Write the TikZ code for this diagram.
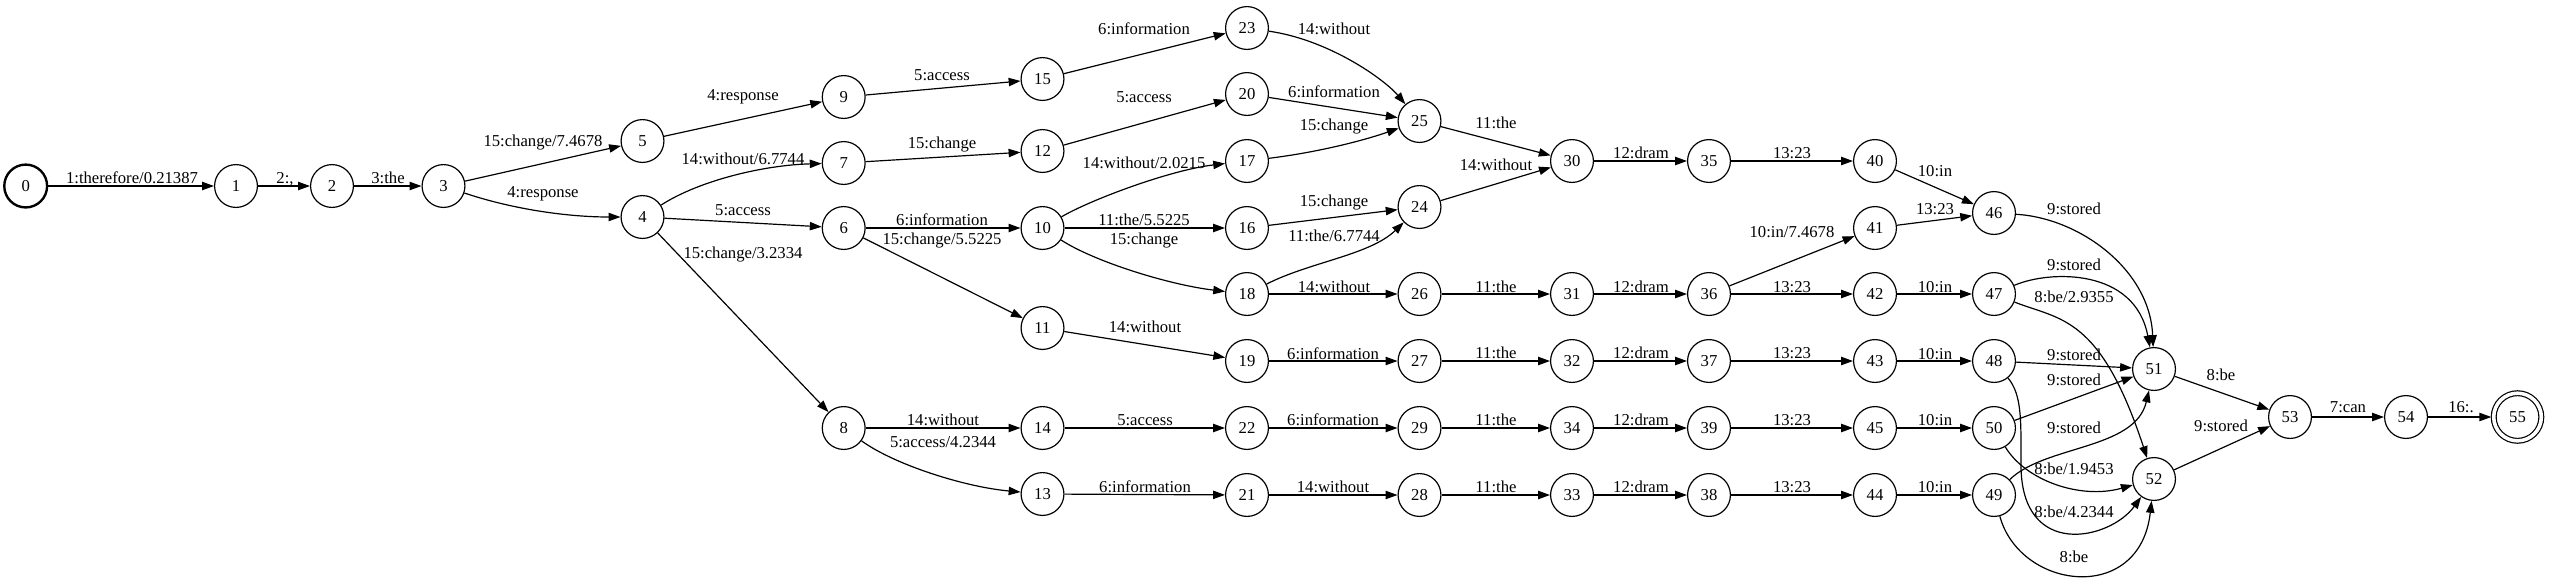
\documentclass[tikz,border=0pt]{standalone}
\usepackage{fontspec}
\setmainfont{Liberation Serif}
\usetikzlibrary{arrows.meta}

\begin{document}
\begin{tikzpicture}[x=0.84pt, y=-0.84pt,
    st/.style={draw, circle, minimum size=36pt, inner sep=0pt, line width=1pt, font=\fontsize{14}{16}\selectfont},
    lbl/.style={inner sep=0pt, font=\fontsize{14}{16}\selectfont},
    arr/.style={line width=1pt, -{Triangle[length=10pt,width=7pt]}}]
  \useasboundingbox (0,0) rectangle (2550,584);

  % states
  \node[st, line width=2pt] (n0) at (25.7,186) {0};
  \foreach \n/\x/\y in {1/236/186, 2/332/186, 3/443.5/186, 5/642.5/141, 4/642.5/217,
      9/843.7/97, 7/843.7/163, 6/843.7/228, 8/843.7/428,
      15/1042.5/79, 12/1042.5/151, 10/1042.5/228, 11/1042.5/328, 14/1042.5/428, 13/1042.5/494,
      23/1247/28, 20/1247/94, 17/1247/161, 16/1247/228, 18/1247/294, 19/1247/361, 22/1247/428, 21/1247/495,
      25/1419.5/121, 24/1419.5/207, 26/1419.5/294, 27/1419.5/361, 29/1419.5/428, 28/1419.5/495,
      30/1572/161, 31/1572/294, 32/1572/361, 34/1572/428, 33/1572/495,
      35/1709/161, 36/1709/294, 37/1709/361, 39/1709/428, 38/1709/495,
      40/1875/161, 41/1875/228, 42/1875/294, 43/1875/361, 45/1875/428, 44/1875/495,
      46/1994/213, 47/1994/294, 48/1994/361, 50/1994/428, 49/1994/495,
      51/2154/369, 52/2154/479, 53/2290/417, 54/2406/417}
    \node[st] (n\n) at (\x,\y) {\n};
  \node[st, minimum size=40pt, double, double distance=3pt, outer sep=2pt] (n55) at (2517.5,417) {55};

  % straight arcs
  \foreach \a/\b/\t/\lx/\ly in {0/1/{1:therefore/0.21387}/132/178, 1/2/{2:,}/285/179, 2/3/{3:the}/388/178,
      3/5/{15:change/7.4678}/543/143, 5/9/{4:response}/743/97, 4/6/{5:access}/743/210,
      4/8/{15:change/3.2334}/743/255, 9/15/{5:access}/942/75, 7/12/{15:change}/942/145,
      6/10/{6:information}/942/220, 6/11/{15:change/5.5225}/942/241, 8/14/{14:without}/943/420,
      15/23/{6:information}/1144/29, 12/20/{5:access}/1144/97, 10/16/{11:the/5.5225}/1144/220,
      11/19/{14:without}/1145/327, 14/22/{5:access}/1145/420, 13/21/{6:information}/1145/487,
      20/25/{6:information}/1334/92, 16/24/{15:change}/1334/203, 18/26/{14:without}/1334/287,
      19/27/{6:information}/1333/354, 22/29/{6:information}/1333/420, 21/28/{14:without}/1333/487,
      25/30/{11:the}/1496/123, 24/30/{14:without}/1496/165, 26/31/{11:the}/1496/287,
      27/32/{11:the}/1496/353, 29/34/{11:the}/1496/420, 28/33/{11:the}/1496/487,
      30/35/{12:dram}/1641/153, 31/36/{12:dram}/1641/287, 32/37/{12:dram}/1641/353,
      34/39/{12:dram}/1641/420, 33/38/{12:dram}/1641/487,
      35/40/{13:23}/1792/153, 36/41/{10:in/7.4678}/1792/232, 36/42/{13:23}/1792/287,
      37/43/{13:23}/1792/353, 39/45/{13:23}/1792/420, 38/44/{13:23}/1792/487,
      40/46/{10:in}/1935/171, 41/46/{13:23}/1935/209, 42/47/{10:in}/1935/287,
      43/48/{10:in}/1935/354, 45/50/{10:in}/1935/420, 44/49/{10:in}/1935/487,
      48/51/{9:stored}/2074/355, 50/51/{9:stored}/2074/380,
      51/53/{8:be}/2221/375, 52/53/{9:stored}/2221/426, 53/54/{7:can}/2348/407, 54/55/{16:.}/2461/407}
  {
    \draw[arr] (n\a) -- (n\b);
    \node[lbl] (l\a-\b) at (\lx,\ly) {\t};
  }

  % curved arcs
  \draw[arr] (n3) .. controls (515,210) and (570,217) .. (n4);
  \node[lbl] (l3-4) at (543,194) {4:response};
  \draw[arr] (n4) .. controls (700,180) and (765,165) .. (n7);
  \node[lbl] (l4-7) at (743,159) {14:without/6.7744};
  \draw[arr] (n10) .. controls (1090,200) and (1170,170) .. (n17);
  \node[lbl] (l10-17) at (1144,163) {14:without/2.0215};
  \draw[arr] (n10) .. controls (1095,262) and (1170,285) .. (n18);
  \node[lbl] (l10-18) at (1144,241) {15:change};
  \draw[arr] (n8) .. controls (895,465) and (965,487) .. (n13);
  \node[lbl] (l8-13) at (943,442) {5:access/4.2344};
  \draw[arr] (n23) .. controls (1330,40) and (1385,80) .. (n25);
  \node[lbl] (l23-25) at (1334,29) {14:without};
  \draw[arr] (n17) .. controls (1320,152) and (1365,140) .. (n25);
  \node[lbl] (l17-25) at (1334,127) {15:change};
  \draw[arr] (n18) .. controls (1310,262) and (1370,255) .. (n24);
  \node[lbl] (l18-24) at (1334,236) {11:the/6.7744};
  \draw[arr] (n46) .. controls (2080,218) and (2150,270) .. (n51);
  \node[lbl] (l46-51) at (2074,209) {9:stored};
  \draw[arr] (n47) .. controls (2050,270) and (2135,268) .. (n51);
  \node[lbl] (l47-51) at (2074,265) {9:stored};
  \draw[arr] (n47) .. controls (2060,320) and (2100,315) .. (n52);
  \node[lbl] (l47-52) at (2074,297) {8:be/2.9355};
  \draw[arr] (n49) .. controls (2045,445) and (2135,450) .. (n51);
  \node[lbl] (l49-51) at (2074,428) {9:stored};
  \draw[arr] (n50) .. controls (2025,480) and (2080,500) .. (n52);
  \node[lbl] (l50-52) at (2074,469) {8:be/1.9453};
  \draw[arr] (n48) .. controls (2022,395) and (2021,420) .. (2021,465)
    .. controls (2021,560) and (2110,540) .. (n52);
  \node[lbl] (l48-52) at (2074,512) {8:be/4.2344};
  \draw[arr] (n49) .. controls (2020,590) and (2140,605) .. (n52);
  \node[lbl] (l49-52) at (2074,557) {8:be};
\end{tikzpicture}
\end{document}
